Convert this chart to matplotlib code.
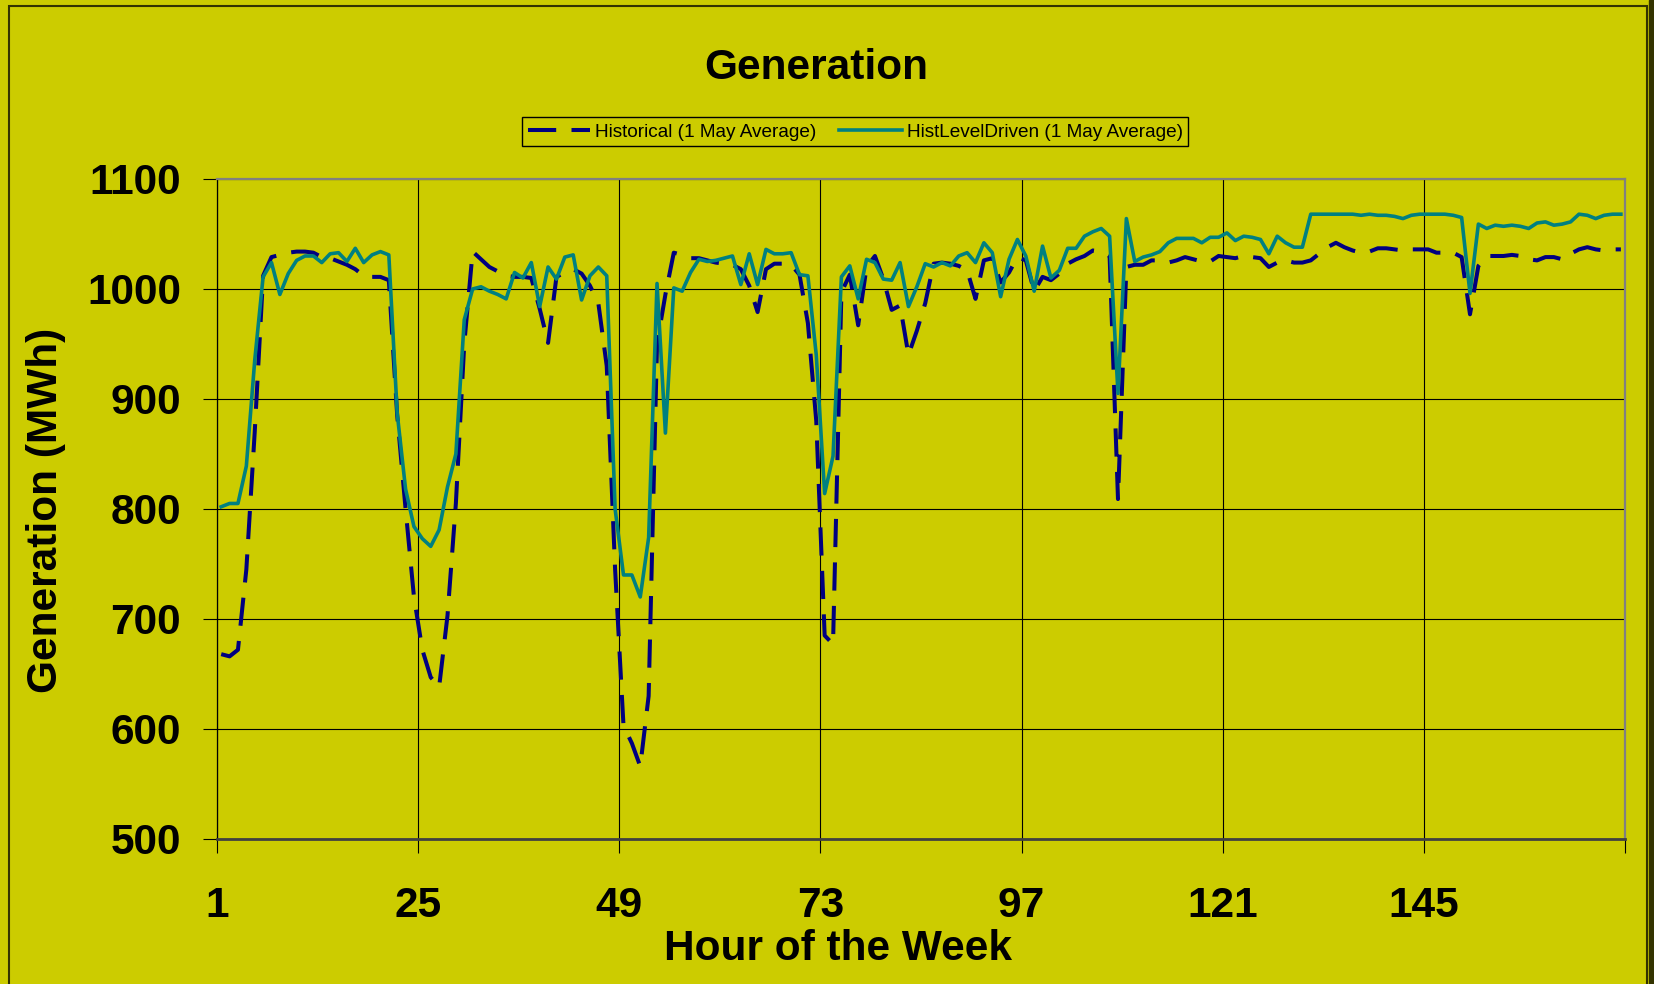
from __future__ import annotations

import matplotlib

matplotlib.use("Agg")
import matplotlib.pyplot as plt
import numpy as np
from matplotlib.patches import Rectangle


OUT_PNG = "out.png"

BG = "#cccc00"
NAVY = "#000080"
TEAL = "#008080"

TITLE = "Generation"
X_LABEL = "Hour of the Week"
Y_LABEL = "Generation (MWh)"
LABEL_HIST = "Historical (1 May Average)"
LABEL_DRIVEN = "HistLevelDriven (1 May Average)"

X_TICK_LABELS = ["1", "25", "49", "73", "97", "121", "145"]
Y_TICKS = [500, 600, 700, 800, 900, 1000, 1100]

# hourly values, hours 1..168
HISTORICAL = [
    668, 666, 672, 745, 870, 1012, 1029, 1031, 1033, 1034, 1034, 1033,
    1029, 1028, 1025, 1022, 1018, 1012, 1011, 1011, 1008, 885, 800, 720,
    672, 647, 638, 703, 805, 950, 1034, 1027, 1020, 1016, 1012, 1011,
    1011, 1010, 982, 951, 1011, 1015, 1018, 1014, 1003, 987, 930, 745,
    603, 587, 566, 630, 950, 995, 1033, 1031, 1028, 1028, 1026, 1024,
    1023, 1022, 1018, 1003, 979, 1018, 1023, 1023, 1022, 1013, 969, 880,
    685, 677, 997, 1013, 967, 1020, 1030, 1009, 981, 985, 940, 962,
    987, 1023, 1024, 1023, 1021, 1017, 991, 1026, 1028, 1006, 1015, 1029,
    1026, 998, 1011, 1008, 1014, 1023, 1027, 1030, 1035, 1034, 1030, 809,
    1020, 1022, 1022, 1026, 1026, 1024, 1026, 1029, 1027, 1025, 1025, 1030,
    1029, 1028, 1030, 1029, 1028, 1020, 1024, 1026, 1024, 1024, 1026, 1032,
    1038, 1042, 1038, 1035, 1033, 1034, 1037, 1037, 1036, 1035, 1036, 1036,
    1036, 1033, 1033, 1033, 1029, 977, 1021, 1030, 1030, 1030, 1031, 1030,
    1027, 1026, 1029, 1029, 1027, 1032, 1036, 1038, 1036, 1035, 1036, 1036,
]

HIST_LEVEL_DRIVEN = [
    802, 805, 805, 839, 935, 1011, 1024, 995, 1014, 1026, 1030, 1030,
    1024, 1032, 1033, 1025, 1037, 1024, 1031, 1034, 1031, 887, 818, 784,
    773, 766, 781, 820, 850, 972, 1000, 1002, 998, 995, 991, 1015,
    1010, 1024, 984, 1020, 1009, 1029, 1031, 990, 1012, 1020, 1012, 800,
    740, 740, 720, 774, 1005, 869, 1001, 998, 1015, 1027, 1025, 1026,
    1028, 1030, 1004, 1032, 1004, 1036, 1032, 1032, 1033, 1013, 1012, 940,
    814, 848, 1011, 1021, 991, 1027, 1024, 1009, 1008, 1024, 984, 1002,
    1023, 1020, 1024, 1021, 1030, 1033, 1024, 1042, 1033, 993, 1027, 1045,
    1030, 998, 1039, 1010, 1017, 1037, 1037, 1048, 1052, 1055, 1048, 905,
    1064, 1025, 1029, 1031, 1034, 1042, 1046, 1046, 1046, 1042, 1047, 1047,
    1051, 1044, 1048, 1047, 1045, 1032, 1048, 1042, 1038, 1038, 1068, 1068,
    1068, 1068, 1068, 1068, 1067, 1068, 1067, 1067, 1066, 1064, 1067, 1068,
    1068, 1068, 1068, 1067, 1065, 996, 1059, 1055, 1058, 1057, 1058, 1057,
    1055, 1060, 1061, 1058, 1059, 1061, 1068, 1067, 1064, 1067, 1068, 1068,
]


def set_font() -> None:
    plt.rcParams["font.family"] = ["Liberation Sans", "DejaVu Sans"]


def plot_generation() -> None:
    set_font()
    hours = np.arange(1, len(HISTORICAL) + 1)

    fig = plt.figure(figsize=(16.54, 9.84), dpi=100, facecolor=BG)
    ax = fig.add_axes([0.1312, 0.1474, 0.8513, 0.6707], facecolor=BG)

    ax.plot(hours, HISTORICAL, color=NAVY, linewidth=2.9, dashes=(7.0, 3.8),
            label=LABEL_HIST, zorder=3)
    ax.plot(hours, HIST_LEVEL_DRIVEN, color=TEAL, linewidth=2.6,
            label=LABEL_DRIVEN, zorder=4)

    # category boundaries every 24 hours, labelled with the first hour of the day
    bounds = np.arange(0.5, len(hours) + 1, 24)
    ax.set_xlim(0.5, len(hours) + 0.5)
    ax.set_xticks(bounds)
    ax.set_xticklabels(X_TICK_LABELS + [""] * (len(bounds) - len(X_TICK_LABELS)))
    ax.set_ylim(Y_TICKS[0], Y_TICKS[-1])
    ax.set_yticks(Y_TICKS)

    ax.grid(True, color="black", linewidth=0.8, zorder=1)
    ax.set_axisbelow(True)
    ax.tick_params(axis="both", length=10, width=0.8, color="black",
                   labelsize=30.5, direction="out")
    ax.tick_params(axis="x", pad=24)
    ax.tick_params(axis="y", pad=16)
    for lab in ax.get_xticklabels() + ax.get_yticklabels():
        lab.set_fontweight("bold")

    ax.spines["top"].set_color("#808080")
    ax.spines["right"].set_color("#808080")
    ax.spines["top"].set_linewidth(1.6)
    ax.spines["right"].set_linewidth(1.6)
    ax.spines["bottom"].set_color("#404040")
    ax.spines["bottom"].set_linewidth(2.0)
    ax.spines["left"].set_color("black")
    ax.spines["left"].set_linewidth(0.9)

    fig.text(0.4937, 0.931, TITLE, ha="center", va="center",
             fontsize=30.5, fontweight="bold")
    fig.text(0.5064, 0.0355, X_LABEL, ha="center", va="center",
             fontsize=30.5, fontweight="bold")
    fig.text(0.028, 0.481, Y_LABEL, ha="center", va="center", rotation=90,
             fontsize=30.5, fontweight="bold")

    leg = fig.legend(loc="center", bbox_to_anchor=(0.517, 0.866), ncol=2,
                     fontsize=13.7, frameon=True, fancybox=False,
                     edgecolor="black", facecolor=BG, framealpha=1,
                     handlelength=3.3, handletextpad=0.25, columnspacing=1.2,
                     borderpad=0.3)
    leg.get_frame().set_linewidth(1.0)

    # outer chart border
    fig.patches.append(Rectangle((9 / 1654, -0.02), 1638 / 1654, 1.02 - 6 / 984,
                                 transform=fig.transFigure, fill=False,
                                 edgecolor="#333300", linewidth=1.5))
    fig.patches.append(Rectangle((1649 / 1654, 0), 5 / 1654, 1,
                                 transform=fig.transFigure, color="#333300"))

    fig.savefig(OUT_PNG, dpi=100, facecolor=BG)
    plt.close(fig)


def main() -> None:
    plot_generation()
    print(f"Wrote {OUT_PNG}")


if __name__ == "__main__":
    main()
